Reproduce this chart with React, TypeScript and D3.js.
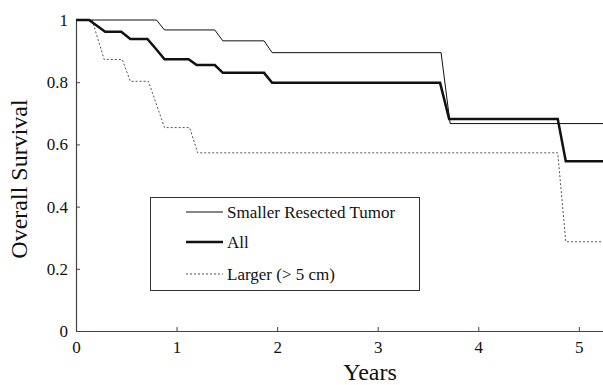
import { useEffect, useRef } from 'react'
import * as d3 from 'd3'

// [years, survival]
const smaller: [number, number][] = [
  [0, 1], [0.8, 1], [0.88, 0.968], [1.38, 0.968], [1.46, 0.933], [1.87, 0.933],
  [1.95, 0.895], [3.63, 0.895], [3.72, 0.667], [5.24, 0.667]
]
const all: [number, number][] = [
  [0, 1], [0.13, 1], [0.29, 0.962], [0.45, 0.962], [0.54, 0.939], [0.71, 0.939],
  [0.8, 0.905], [0.88, 0.874], [1.12, 0.874], [1.2, 0.855], [1.38, 0.855],
  [1.46, 0.83], [1.87, 0.83], [1.95, 0.798], [3.62, 0.798], [3.71, 0.682],
  [4.79, 0.682], [4.87, 0.546], [5.24, 0.546]
]
const larger: [number, number][] = [
  [0, 1], [0.16, 1], [0.28, 0.873], [0.46, 0.873], [0.54, 0.803], [0.72, 0.803],
  [0.88, 0.654], [1.13, 0.654], [1.21, 0.573], [4.79, 0.573], [4.87, 0.287],
  [5.24, 0.287]
]
const xTicks = [0, 1, 2, 3, 4, 5]
const yTicks = [0, 0.2, 0.4, 0.6, 0.8, 1]
const legendLabels = ['Smaller Resected Tumor', 'All', 'Larger (> 5 cm)']

const font = "'Liberation Serif', 'DejaVu Serif', serif"

export default function App() {
  const svgRef = useRef<SVGSVGElement>(null)

  useEffect(() => {
    if (!svgRef.current) return
    const svg = d3.select(svgRef.current)
    svg.selectAll('*').remove()

    const x = d3.scaleLinear().domain([0, 5.24]).range([76, 603])
    const y = d3.scaleLinear().domain([0, 1]).range([331, 20])

    const axisColor = '#444'

    // axes
    const gx = svg.append('g').attr('transform', `translate(0,${y(0)})`)
      .call(d3.axisBottom(x).tickValues(xTicks).tickFormat(d3.format('d')).tickSizeInner(-4).tickSizeOuter(0).tickPadding(10))
    const gy = svg.append('g').attr('transform', `translate(${x(0)},0)`)
      .call(d3.axisLeft(y).tickValues(yTicks).tickFormat(d => d === 0 || d === 1 ? String(d) : d3.format('.1f')(d as number)).tickSizeInner(-4).tickSizeOuter(0).tickPadding(8))

    ;[gx, gy].forEach(g => {
      g.attr('font-family', font).attr('font-size', 17)
      g.selectAll('.domain').attr('stroke', axisColor).attr('stroke-width', 1.2)
      g.selectAll('.tick line').attr('stroke', axisColor)
      g.selectAll('.tick text').attr('fill', '#111')
    })

    const line = d3.line<[number, number]>()
      .x(d => x(d[0]))
      .y(d => y(d[1]))

    svg.append('path').datum(larger)
      .attr('fill', 'none').attr('stroke', '#555').attr('stroke-width', 1)
      .attr('stroke-dasharray', '2,2').attr('d', line)
    svg.append('path').datum(smaller)
      .attr('fill', 'none').attr('stroke', '#111').attr('stroke-width', 1)
      .attr('d', line)
    svg.append('path').datum(all)
      .attr('fill', 'none').attr('stroke', '#111').attr('stroke-width', 2.5)
      .attr('d', line)

    // legend
    const lg = svg.append('g')
    lg.append('rect')
      .attr('x', 150.5).attr('y', 197.5).attr('width', 269).attr('height', 93)
      .attr('fill', 'white').attr('stroke', '#333').attr('stroke-width', 1)
    const styles = [
      { w: 1, dash: null, color: '#111' },
      { w: 2.5, dash: null, color: '#111' },
      { w: 1, dash: '2,2', color: '#555' }
    ]
    const rowY = [212, 242, 274]
    legendLabels.forEach((lab, i) => {
      lg.append('line')
        .attr('x1', 186).attr('x2', 223).attr('y1', rowY[i]).attr('y2', rowY[i])
        .attr('stroke', styles[i].color).attr('stroke-width', styles[i].w)
        .attr('stroke-dasharray', styles[i].dash)
      lg.append('text')
        .attr('x', 227).attr('y', rowY[i]).attr('dy', '0.35em')
        .attr('font-family', font).attr('font-size', 17)
        .attr('fill', '#111')
        .text(lab)
    })

    svg.append('text')
      .attr('x', 370).attr('y', 380)
      .attr('text-anchor', 'middle')
      .attr('font-family', font).attr('font-size', 24)
      .attr('fill', '#111')
      .text('Years')

    svg.append('text')
      .attr('transform', `translate(27,179) rotate(-90)`)
      .attr('text-anchor', 'middle')
      .attr('font-family', font).attr('font-size', 24)
      .attr('fill', '#111')
      .text('Overall Survival')
  }, [])

  return (
    <svg ref={svgRef} width={603} height={385}
      style={{ position: 'absolute', left: 0, top: 0, background: 'white' }} />
  )
}
